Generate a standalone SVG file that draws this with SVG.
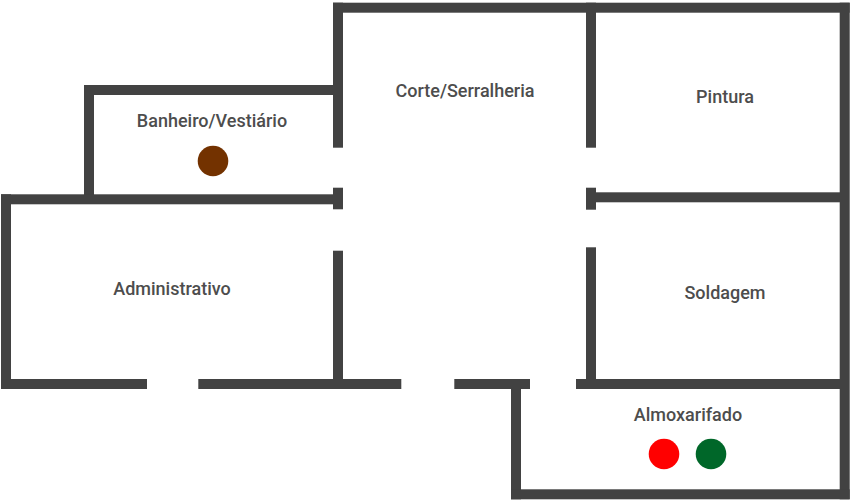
<svg xmlns="http://www.w3.org/2000/svg" width="850" height="500" viewBox="0 0 850 500">
<style>
.w{fill:#424242}
.t{font-family:Roboto,"Liberation Sans",sans-serif;font-size:18px;font-weight:500;fill:#4d4d4d;text-anchor:middle}
</style>
<rect width="850" height="500" fill="#fff"/>
<g id="walls">
<rect class="w" x="333" y="2.7" width="516.7" height="10"/>
<rect class="w" x="839.7" y="2.7" width="10" height="496.6"/>
<rect class="w" x="333" y="2.7" width="10" height="145"/>
<rect class="w" x="333" y="187.7" width="10" height="21.6"/>
<rect class="w" x="333" y="250.7" width="10" height="130"/>
<rect class="w" x="586" y="2.7" width="10" height="145"/>
<rect class="w" x="586" y="187.7" width="10" height="22"/>
<rect class="w" x="586" y="247.3" width="10" height="133"/>
<rect class="w" x="84" y="85" width="249" height="10"/>
<rect class="w" x="84" y="85" width="10" height="115"/>
<rect class="w" x="1" y="194.3" width="332" height="10"/>
<rect class="w" x="596" y="192.3" width="244" height="10"/>
<rect class="w" x="1" y="194.3" width="10" height="194.7"/>
<rect class="w" x="1" y="379" width="146" height="10"/>
<rect class="w" x="198.3" y="379" width="203" height="10"/>
<rect class="w" x="454.3" y="379" width="75.7" height="10"/>
<rect class="w" x="576" y="379" width="264" height="10"/>
<rect class="w" x="511" y="379" width="10" height="120.3"/>
<rect class="w" x="511" y="489.3" width="338.7" height="10"/>
</g>
<g id="banheiro"><text class="t" x="212" y="127">Banheiro/Vestiário</text><circle cx="213" cy="161" r="15.3" fill="#733200"/></g>
<g id="corte"><text class="t" x="465" y="97">Corte/Serralheria</text></g>
<g id="pintura"><text class="t" x="725" y="103">Pintura</text></g>
<g id="administrativo"><text class="t" x="172" y="295">Administrativo</text></g>
<g id="soldagem"><text class="t" x="725" y="299">Soldagem</text></g>
<g id="almoxarifado"><text class="t" x="688" y="421">Almoxarifado</text><circle cx="664" cy="454" r="15.3" fill="#f00"/><circle cx="711" cy="454" r="15.3" fill="#006729"/></g>
</svg>
